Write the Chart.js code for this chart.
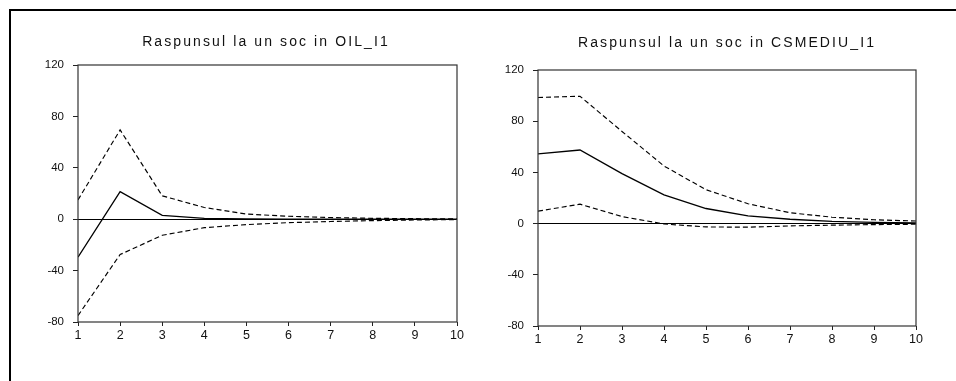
<!DOCTYPE html>
<html>
<head>
<meta charset="utf-8">
<script src="https://cdn.jsdelivr.net/npm/chart.js@4.4.1/dist/chart.umd.min.js"></script>
<style>
  html, body { margin: 0; padding: 0; background: #fff; }
  body { width: 956px; height: 381px; position: relative; overflow: hidden; font-family: "Liberation Sans", Arial, sans-serif; }
  .frame { position: absolute; left: 9px; top: 9px; width: 960px; height: 390px; border-top: 2px solid #000; border-left: 2px solid #000; }
  .panel { position: absolute; top: 0; width: 478px; height: 381px; }
  .panel canvas { position: absolute; left: 0; top: 0; }
  .title { position: absolute; font-size: 14px; letter-spacing: 2.1px; color: #111; white-space: nowrap; transform: translateX(-50%); }
</style>
</head>
<body>
<div class="frame"></div>
<div class="panel" style="left:0"><canvas id="oil" width="478" height="381"></canvas></div>
<div class="panel" style="left:478px"><canvas id="cs" width="478" height="381"></canvas></div>
<div class="title" id="t1" style="left:266px; top:33px">Raspunsul la un soc in OIL_I1</div>
<div class="title" id="t2" style="left:727px; top:34px">Raspunsul la un soc in CSMEDIU_I1</div>
<script>
// Horizon (periods after the shock)
const periods = [1, 2, 3, 4, 5, 6, 7, 8, 9, 10];

// Response to a shock in OIL_I1: point estimate and +/- 2 S.E. bands
const oilResponse = [-29.5, 21.5, 3.0, 0.6, 0.2, 0.1, 0.0, 0.0, 0.0, 0.0];
const oilUpper    = [15, 69.5, 18.2, 9.1, 4.0, 2.3, 1.3, 0.7, 0.4, 0.2];
const oilLower    = [-75, -27.5, -12.5, -6.6, -4.2, -2.7, -1.8, -1.1, -0.6, -0.3];

// Response to a shock in CSMEDIU_I1: point estimate and +/- 2 S.E. bands
const csResponse = [54.5, 57.5, 39.0, 22.5, 11.8, 6.0, 3.4, 1.8, 1.0, 0.5];
const csUpper    = [98.5, 99.5, 72.0, 45.0, 26.5, 15.5, 8.5, 5.0, 3.0, 2.0];
const csLower    = [9.7, 15.2, 5.5, -0.3, -2.6, -2.8, -1.8, -1.2, -0.8, -0.5];

// Axis ticks
const yTickValues = [-80, -40, 0, 40, 80, 120];
const xTickValues = periods;

const toPoints = vals => vals.map((v, i) => ({ x: periods[i], y: v }));

const frameBox = {
  id: 'frameBox',
  afterDatasetsDraw(chart) {
    const { ctx, chartArea: a } = chart;
    ctx.save();
    ctx.strokeStyle = '#333';
    ctx.lineWidth = 1.2;
    ctx.strokeRect(a.left, a.top, a.right - a.left, a.bottom - a.top);
    ctx.restore();
  }
};

function makeChart(id, resp, upper, lower, box) {
  const line = (data, dashed) => ({
    data: toPoints(data),
    borderColor: '#000',
    borderWidth: dashed ? 1.15 : 1.3,
    borderDash: dashed ? [5, 3] : [],
    pointRadius: 0,
    tension: 0,
    fill: false
  });
  return new Chart(document.getElementById(id), {
    type: 'line',
    data: { datasets: [line(upper, true), line(resp, false), line(lower, true)] },
    options: {
      responsive: false,
      animation: false,
      events: [],
      layout: { padding: { left: 0, top: box.top, right: box.right, bottom: 0 } },
      plugins: { legend: { display: false }, tooltip: { enabled: false }, title: { display: false } },
      scales: {
        x: {
          type: 'linear', min: 1, max: 10,
          afterBuildTicks: s => { s.ticks = xTickValues.map(v => ({ value: v })); },
          afterFit: s => { s.height = box.bottom; },
          border: { display: false },
          grid: { drawOnChartArea: false, drawTicks: true, tickLength: 4, tickColor: '#222', lineWidth: 1 },
          ticks: { color: '#111', font: { family: 'Liberation Sans', size: 12.5 }, padding: 2, maxRotation: 0 }
        },
        y: {
          min: -80, max: 120,
          afterBuildTicks: s => { s.ticks = yTickValues.map(v => ({ value: v })); },
          afterFit: s => { s.width = box.left; },
          border: { display: false },
          grid: {
            drawOnChartArea: true, drawTicks: true, tickLength: 5, tickColor: '#222',
            color: c => (c.tick && c.tick.value === 0) ? '#000' : 'rgba(0,0,0,0)',
            lineWidth: 1
          },
          ticks: { color: '#111', font: { family: 'Liberation Sans', size: 11.5 }, padding: 9 }
        }
      }
    },
    plugins: [frameBox]
  });
}

// chart areas: left panel 78..457 x 65..322, right panel 538..916 x 70..326
makeChart('oil', oilResponse, oilUpper, oilLower, { left: 78, right: 21, top: 65, bottom: 59 });
makeChart('cs', csResponse, csUpper, csLower, { left: 60, right: 40, top: 70, bottom: 55 });
</script>
</body>
</html>
